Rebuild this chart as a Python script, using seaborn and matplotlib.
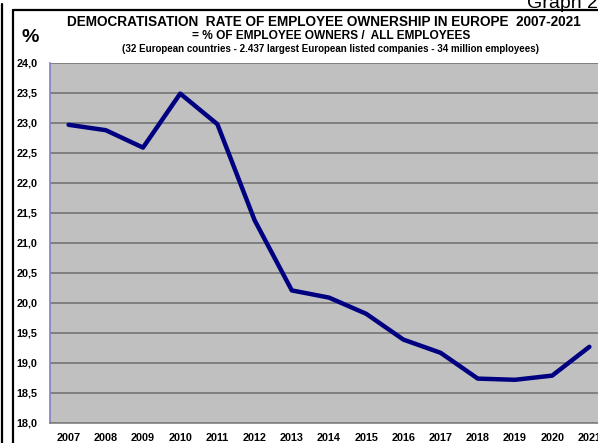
import numpy as np
import pandas as pd
import seaborn as sns
import matplotlib.pyplot as plt
from matplotlib.lines import Line2D
from matplotlib.ticker import FuncFormatter

# Data
years = [2007, 2008, 2009, 2010, 2011, 2012, 2013, 2014,
         2015, 2016, 2017, 2018, 2019, 2020, 2021]
rate = [22.97, 22.88, 22.59, 23.49, 22.98, 21.38, 20.21, 20.09,
        19.82, 19.39, 19.17, 18.74, 18.72, 18.79, 19.27]
y_ticks = np.arange(18.0, 24.01, 0.5)

title_1 = "DEMOCRATISATION  RATE OF EMPLOYEE OWNERSHIP IN EUROPE  2007-2021"
title_2 = "= % OF EMPLOYEE OWNERS /  ALL EMPLOYEES"
title_3 = "(32 European countries - 2.437 largest European listed companies - 34 million employees)"

df = pd.DataFrame({"year": years, "rate": rate})

sns.set_style("white")
plt.rcParams['font.family'] = ['Liberation Sans', 'DejaVu Sans']
plt.rcParams['text.color'] = 'black'

W, H = 598, 443
fig = plt.figure(figsize=(W / 100, H / 100), dpi=100)

# plot area in pixel coords: left 50, top 63, bottom 423, 15 categories of ~37.2 px
left, top, bottom, cat_w = 50, 63, 423, 37.2
ax = fig.add_axes([left / W, 1 - bottom / H, cat_w * 15 / W, (bottom - top) / H])
ax.set_facecolor('#c0c0c0')

sns.lineplot(data=df, x="year", y="rate", ax=ax, color='#000080',
             linewidth=3.2, solid_joinstyle='round', solid_capstyle='round')

ax.set_xlim(years[0] - 0.5, years[-1] + 0.5)
ax.set_ylim(18.0, 24.0)
ax.set_yticks(y_ticks)
ax.yaxis.set_major_formatter(FuncFormatter(lambda v, p: f"{v:.1f}".replace('.', ',')))
ax.set_xticks(years)
ax.set_xticks([y + 0.5 for y in years[:-1]], minor=True)
ax.tick_params(axis='x', which='major', length=0, pad=7, labelsize=7.8, labelcolor='black')
ax.tick_params(axis='x', which='minor', length=4, width=1, color='#808080', direction='out')
ax.tick_params(axis='y', length=4, width=1, color='#8080c0', direction='out', pad=5,
               labelsize=7.8, labelcolor='black')
for lab in ax.get_xticklabels() + ax.get_yticklabels():
    lab.set_fontweight('bold')

ax.grid(axis='y', color='#808080', linewidth=1.4)
ax.set_axisbelow(True)
ax.set_xlabel("")
ax.set_ylabel("")
for side in ['top', 'right']:
    ax.spines[side].set_visible(False)
ax.spines['left'].set_color('#8080c0')
ax.spines['left'].set_linewidth(1.2)
ax.spines['bottom'].set_color('#808080')
ax.spines['bottom'].set_linewidth(1.2)

# titles
def ftext(x, y, s, **kw):
    fig.text(x / W, 1 - y / H, s, **kw)

ftext(324, 21.5, title_1, ha='center', va='center', fontsize=9.8, fontweight='bold')
ftext(331, 36, title_2, ha='center', va='center', fontsize=8.6, fontweight='bold')
ftext(330, 49, title_3, ha='center', va='center', fontsize=7.0, fontweight='bold')
ftext(30, 38, "%", ha='center', va='center', fontsize=14, fontweight='bold')
ftext(527, 8, "Graph 25", ha='left', va='baseline', fontsize=14)

# frame lines around the chart
fig.add_artist(Line2D([2 / W, 2 / W], [0, 1 - 4 / H], color='black', linewidth=1.6))
fig.add_artist(Line2D([13 / W, 13 / W], [0, 1 - 10 / H], color='black', linewidth=1.6))
fig.add_artist(Line2D([13 / W, 1], [1 - 10 / H, 1 - 10 / H], color='black', linewidth=1.6))

fig.savefig("out.png", dpi=100)
